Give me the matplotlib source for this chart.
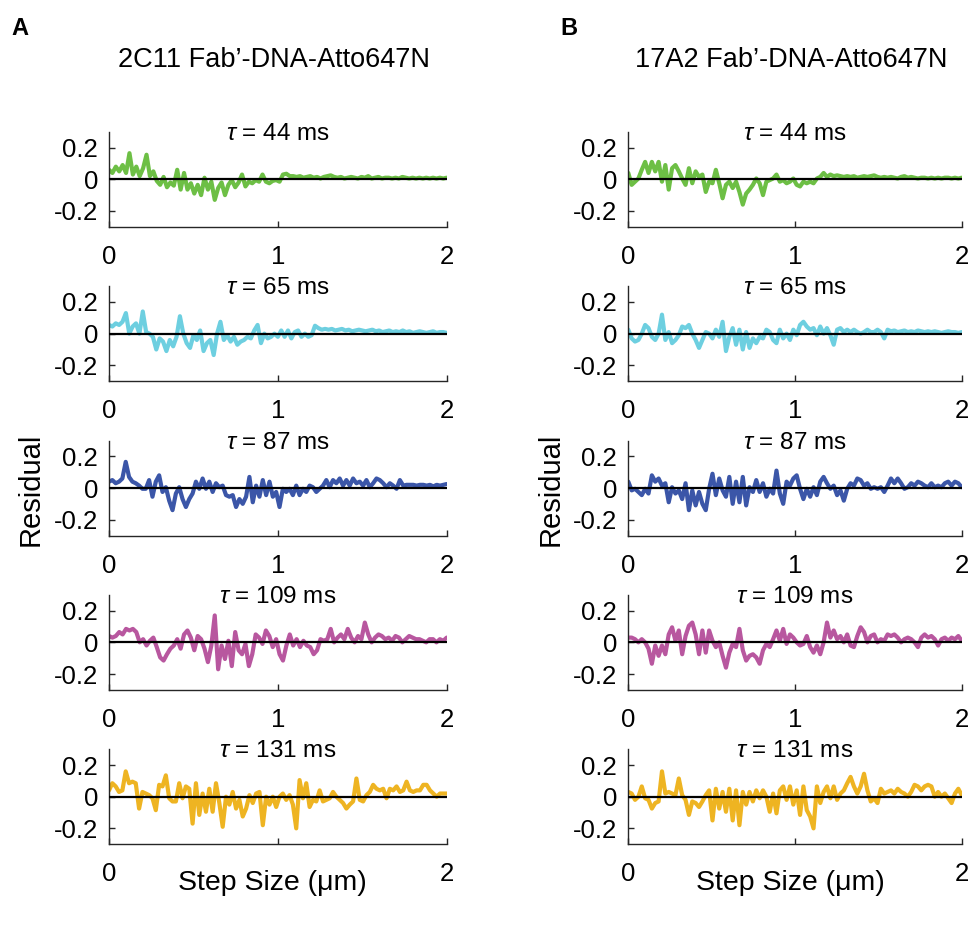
import numpy as np
import matplotlib
matplotlib.use("Agg")
import matplotlib.pyplot as plt

plt.rcParams["font.family"] = ["Liberation Sans", "DejaVu Sans"]
plt.rcParams["mathtext.fontset"] = "custom"
plt.rcParams["mathtext.it"] = "Liberation Sans:italic"
plt.rcParams["mathtext.rm"] = "Liberation Sans"
plt.rcParams["axes.unicode_minus"] = False

# ---- data -------------------------------------------------------------
taus = [44, 65, 87, 109, 131]
colors = ["#6dbf45", "#6dcfe0", "#3b56a8", "#b8579f", "#eeb422"]
panel_titles = ["2C11 Fab\u2019-DNA-Atto647N", "17A2 Fab\u2019-DNA-Atto647N"]
panel_letters = ["A", "B"]
x_ticks = [0, 1, 2]
x_tick_labels = ["0", "1", "2"]
x_tick_labels_bottom = ["0", "", "2"]
y_ticks = [-0.2, 0, 0.2]
y_tick_labels = ["-0.2", "0", "0.2"]

res_2c11_44 = [0.06, 0.04, 0.08, 0.05, 0.09, 0.04, 0.165, 0.03, 0.08, 0.02,
               0.07, 0.155, 0.02, 0.05, -0.01, -0.035, 0.015, -0.05, -0.02, -0.04,
               0.06, -0.065, 0.04, -0.065, -0.025, -0.09, -0.035, -0.10, 0.01, -0.065,
               -0.015, -0.13, -0.055, -0.02, -0.10, -0.035, -0.005, -0.05, -0.02, 0.03,
               -0.045, -0.015, -0.025, -0.005, -0.015, 0.03, -0.015, -0.025, -0.01, -0.005,
               -0.015, 0.03, 0.035, 0.02,
               0.02, 0.015, 0.02, 0.01, 0.015, 0.02, 0.01, 0.015, 0.005, 0.015,
               0.02, 0.025, 0.015, 0.01, 0.015, 0.005, 0.01, 0.015, 0.01, 0.005,
               0.015, 0.01, 0.02, 0.005, 0.01, 0.015, 0.005, 0.01, 0.01, 0.005,
               0.01, 0.005, 0.015, 0.01, 0.005, 0.01, 0.005, 0.01, 0.005, 0.01,
               0.005, 0.01, 0.005, 0.01, 0.005, 0.01]

res_2c11_65 = [0.055, 0.045, 0.065, 0.055, 0.075, 0.13, 0.0, 0.045, 0.065, 0.0,
               0.14, 0.01, 0.0, -0.02, -0.10, -0.03, -0.05, -0.11, -0.04, -0.08,
               -0.02, 0.11, 0.0, -0.06, -0.09, -0.01, -0.04, 0.02, -0.11, -0.06,
               -0.04, -0.135, 0.0, 0.075, -0.04, -0.01, -0.05, -0.02, -0.07, -0.05,
               -0.04, -0.02, -0.03, 0.02, 0.055, -0.06, 0.0, -0.03, -0.02, 0.0,
               -0.02, 0.02, -0.02, 0.02, -0.03, 0.01, 0.02, -0.02, 0.0, -0.02,
               -0.01, 0.05, 0.035, 0.025,
               0.03, 0.025, 0.03, 0.02, 0.025, 0.03, 0.02, 0.025, 0.015, 0.02,
               0.025, 0.02, 0.015, 0.02, 0.025, 0.015, 0.02, 0.01, 0.015, 0.02,
               0.01, 0.015, 0.01, 0.02, 0.01, 0.015, 0.005, 0.01, 0.015, 0.01,
               0.005, 0.01, 0.015, 0.005, 0.01, 0.01, 0.005]

res_2c11_87 = [0.04, 0.05, 0.03, 0.04, 0.06, 0.165, 0.07, 0.04, 0.03, 0.015,
               -0.005, -0.005, 0.05, -0.055, 0.04, 0.08, -0.025, 0.005, -0.08, -0.14,
               -0.035, 0.005, -0.07, -0.12, -0.07, -0.035, 0.04, -0.005, 0.06, -0.005,
               0.04, -0.025, 0.03, 0.005, 0.015, -0.045, -0.055, -0.045, -0.12, -0.07,
               -0.10, -0.055, 0.07, -0.09, 0.015, -0.055, 0.05, -0.045, 0.04, -0.055,
               -0.025, -0.12, -0.005, -0.025, -0.005, -0.045, 0.015, -0.045, -0.005, -0.025,
               0.015, 0.005, -0.025, -0.005, 0.015, 0.05, 0.005, 0.05, 0.03, 0.06,
               0.015, 0.05, 0.015, 0.06, 0.03, 0.04, 0.015, 0.05, 0.005, 0.03,
               0.06, 0.05, 0.03, 0.005, 0.03, 0.015, -0.005, 0.05, 0.015, 0.02,
               0.02, 0.02, 0.015, 0.02, 0.02, 0.015, 0.02, 0.01, 0.02, 0.015,
               0.02, 0.025]

res_2c11_109 = [0.04, 0.03, 0.04, 0.065, 0.05, 0.085, 0.075, 0.085, 0.065, 0.0,
                0.02, -0.02, 0.01, 0.03, -0.03, -0.095, -0.115, -0.075, -0.04, -0.02,
                0.02, -0.04, 0.05, 0.075, 0.03, -0.05, 0.04, 0.02, -0.04, -0.125,
                -0.02, 0.17, -0.17, -0.02, -0.105, 0.01, -0.15, 0.065, -0.05, -0.075,
                -0.01, -0.15, -0.075, 0.05, 0.03, -0.01, 0.075, 0.04, -0.03, 0.02,
                -0.075, -0.115, -0.02, 0.05, -0.02, 0.02, -0.03, 0.01, -0.02, -0.03,
                -0.075, -0.05, 0.02, 0.01, 0.02, 0.085, 0.0, 0.03, 0.05, 0.02,
                0.085, 0.03, 0.0, 0.04, 0.02, 0.125, 0.05, 0.0, 0.03, 0.05,
                0.04, 0.02, 0.03, 0.01, 0.04, 0.03, 0.0, 0.02, 0.04, 0.03,
                0.02, 0.02, 0.01, 0.0, 0.02, 0.02, 0.0, 0.02, 0.01, 0.03]

res_2c11_131 = [0.04, 0.085, 0.065, 0.03, 0.04, 0.16, 0.085, 0.095, 0.085, -0.075,
                0.03, 0.02, 0.01, -0.01, -0.085, 0.075, 0.065, 0.135, -0.01, -0.03,
                -0.03, 0.085, -0.01, 0.065, 0.05, -0.17, 0.085, -0.115, 0.02, -0.095,
                0.05, -0.095, 0.085, -0.04, -0.19, 0.0, -0.05, 0.03, -0.075, -0.02,
                -0.125, -0.075, 0.01, -0.04, 0.02, 0.03, -0.18, 0.0, -0.05, 0.0,
                -0.065, 0.0, 0.02, -0.02, 0.01, -0.05, -0.20, 0.105, -0.01, 0.085,
                -0.065, -0.02, -0.03, 0.04, -0.03, -0.02, -0.01, 0.03, 0.0, -0.02,
                -0.04, -0.075, -0.05, -0.03, 0.115, -0.02, -0.03, 0.01, 0.03, 0.075,
                0.05, 0.04, 0.05, -0.01, 0.05, 0.04, 0.065, 0.03, 0.04, 0.095,
                0.04, 0.03, 0.04, 0.04, 0.075, 0.075, 0.04, 0.02, 0.0, 0.02,
                0.02, 0.02]

res_17a2_44 = [0.04, -0.035, -0.015, 0.005, 0.06, 0.11, 0.04, 0.11, 0.05, 0.11,
               -0.015, 0.09, -0.065, 0.07, 0.09, 0.05, 0.005, -0.035, 0.07, -0.025,
               0.05, 0.015, 0.03, -0.08, -0.015, -0.025, 0.06, -0.025, -0.12, -0.035,
               -0.015, -0.055, -0.015, -0.08, -0.16, -0.09, -0.065, -0.035, 0.005, -0.025,
               -0.10, -0.015, -0.005, 0.005, 0.03, -0.015, -0.005, -0.025, -0.015, 0.005,
               -0.035, -0.045, -0.015, -0.025, -0.015, -0.025, 0.005, 0.015, 0.04, 0.015,
               0.03,
               0.02, 0.025, 0.02, 0.015, 0.02, 0.015, 0.02, 0.01, 0.015, 0.02,
               0.015, 0.02, 0.025, 0.015, 0.01, 0.015, 0.01, 0.015, 0.01, 0.005,
               0.015, 0.02, 0.01, 0.015, 0.01, 0.005, 0.01, 0.01, 0.005, 0.01,
               0.005, 0.01, 0.005, 0.01, 0.01, 0.005, 0.01, 0.005, 0.01]

res_17a2_65 = [0.025, -0.03, -0.05, -0.04, 0.0, 0.055, 0.035, -0.02, -0.04, 0.0,
               0.12, -0.04, 0.01, -0.06, -0.04, -0.01, 0.045, 0.035, 0.055, 0.0,
               -0.04, -0.09, -0.04, 0.01, 0.0, -0.03, 0.025, -0.02, 0.075, -0.11,
               -0.02, 0.035, -0.07, 0.025, -0.10, 0.01, -0.09, -0.03, -0.06, -0.02,
               -0.03, 0.025, 0.01, -0.04, -0.06, 0.025, -0.03, 0.0, -0.04, 0.025,
               -0.01, 0.055, 0.075, 0.045, 0.025, 0.035, -0.01, 0.045, 0.0, 0.035,
               -0.01, -0.07, 0.025, 0.035, 0.01, 0.025, 0.01, 0.025, 0.01, 0.0,
               0.01, 0.025, 0.01, 0.01, 0.025, 0.01, -0.03, 0.025,
               0.015, 0.02, 0.01, 0.015, 0.02, 0.01, 0.015, 0.01, 0.02, 0.015,
               0.01, 0.015, 0.01, 0.015, 0.01, 0.005, 0.01, 0.015, 0.01, 0.01,
               0.005, 0.01]

res_17a2_87 = [0.04, -0.015, -0.005, -0.025, -0.045, -0.005, -0.035, 0.08, 0.04, 0.06,
               0.015, 0.03, -0.09, 0.005, -0.035, -0.015, -0.07, 0.03, -0.14, -0.015,
               -0.11, -0.025, -0.10, -0.14, -0.005, 0.09, -0.045, 0.06, -0.015, -0.055,
               0.07, -0.10, 0.04, -0.09, 0.07, -0.11, 0.005, -0.025, 0.05, -0.025,
               0.03, -0.055, -0.005, -0.035, 0.11, -0.035, -0.10, 0.04, 0.015, 0.06,
               0.08, -0.005, -0.07, -0.005, -0.055, 0.005, -0.045, 0.04, 0.07, 0.03,
               -0.005, 0.015, -0.045, -0.015, -0.08, -0.005, 0.03, 0.015, 0.06, 0.05,
               0.015, 0.03, -0.005, 0.005, -0.005, 0.005, -0.025, 0.015, 0.06, 0.03,
               0.06, 0.03, -0.005, 0.005, 0.03, 0.015, 0.04, 0.03, 0.015, 0.005,
               0.03, 0.005, 0.015, 0.005, 0.03, 0.04, 0.015, 0.04, 0.03, 0.005]

res_17a2_109 = [0.03, 0.03, 0.02, 0.0, 0.02, 0.0, -0.04, -0.135, -0.02, -0.085,
                -0.02, -0.075, 0.05, 0.095, 0.01, 0.075, -0.075, 0.04, 0.105, 0.125,
                0.05, -0.075, 0.075, -0.065, 0.075, 0.01, -0.03, 0.0, -0.085, -0.16,
                -0.065, -0.01, -0.03, 0.085, -0.05, -0.115, -0.085, -0.075, -0.095, -0.135,
                -0.05, -0.01, -0.03, 0.02, 0.075, 0.01, 0.085, -0.01, 0.05, 0.03,
                0.0, -0.02, -0.01, 0.04, -0.03, -0.065, -0.02, -0.075, 0.0, 0.125,
                0.03, 0.075, 0.02, 0.04, 0.0, 0.05, -0.02, -0.03, 0.04, 0.095,
                0.065, 0.0, 0.04, 0.05, 0.0, 0.02, 0.01, 0.05, 0.04, 0.05,
                0.03, 0.0, 0.02, 0.03, 0.02, 0.0, -0.03, 0.03, 0.05, 0.03,
                0.04, 0.02, -0.02, 0.02, 0.03, 0.01, 0.03, 0.02, 0.04, 0.01]

res_17a2_131 = [0.03, 0.02, -0.02, 0.0, 0.065, -0.01, -0.02, -0.075, -0.04, -0.03,
                0.16, 0.02, 0.03, 0.02, 0.01, 0.115, 0.01, -0.02, -0.115, -0.03,
                -0.04, -0.065, -0.03, 0.01, 0.04, -0.15, 0.05, -0.075, 0.03, -0.095,
                0.05, -0.15, 0.04, -0.18, 0.03, -0.05, 0.03, -0.03, 0.04, -0.01,
                0.04, 0.0, -0.095, 0.02, -0.105, 0.04, 0.065, -0.02, 0.065, -0.05,
                0.04, -0.115, 0.065, -0.085, -0.125, -0.20, 0.065, -0.04, 0.03, 0.065,
                -0.01, 0.065, -0.02, 0.02, 0.04, 0.085, 0.125, 0.065, 0.02, 0.065,
                0.145, 0.04, -0.03, -0.01, -0.04, 0.05, 0.02, 0.03, 0.04, 0.02,
                0.05, 0.03, 0.02, 0.0, 0.03, 0.075, 0.065, 0.04, 0.065, 0.075,
                0.065, 0.0, 0.03, 0.0, 0.02, -0.01, -0.04, 0.02, 0.05, 0.01]

residuals = [
    [res_2c11_44, res_2c11_65, res_2c11_87, res_2c11_109, res_2c11_131],
    [res_17a2_44, res_17a2_65, res_17a2_87, res_17a2_109, res_17a2_131],
]
x_max = 2.0

# ---- layout (pixel geometry) -----------------------------------------
W, H = 971, 926
fig = plt.figure(figsize=(W / 100, H / 100), dpi=100)

col_x = [(109.0, 446.7), (628.3, 961.7)]
zero_row0 = 179.3
row_pitch = 154.35
half_h = 47.5


def rect(x0, x1, ytop, ybot):
    return [x0 / W, 1 - ybot / H, (x1 - x0) / W, (ybot - ytop) / H]


tick_fs = 18.5
title_fs = 17.5
header_fs = 19.5
label_fs = 20.5

for c in range(2):
    x0, x1 = col_x[c]
    for r in range(5):
        yz = zero_row0 + r * row_pitch
        ax = fig.add_axes(rect(x0, x1, yz - half_h, yz + half_h))
        vals = np.asarray(residuals[c][r])
        xs = np.linspace(0.0, x_max, len(vals))
        ax.plot(xs, vals, color=colors[r], lw=3.0, solid_joinstyle="round",
                solid_capstyle="round", zorder=2)
        ax.axhline(0, color="black", lw=1.6, zorder=3)
        ax.set_xlim(0, x_max)
        ax.set_ylim(-0.3, 0.3)
        ax.set_xticks(x_ticks)
        ax.set_xticklabels(x_tick_labels_bottom if r == 4 else x_tick_labels)
        ax.set_yticks(y_ticks)
        ax.set_yticklabels(y_tick_labels)
        for s in ["top", "right"]:
            ax.spines[s].set_visible(False)
        for s in ["left", "bottom"]:
            ax.spines[s].set_linewidth(1.0)
            ax.spines[s].set_color("#262626")
        ax.tick_params(direction="in", length=4, width=1.0, colors="#262626",
                       labelcolor="black", labelsize=tick_fs)
        ax.tick_params(axis="x", pad=13)
        ax.tick_params(axis="y", pad=8)
        ax.patch.set_alpha(0)
        ax.text(0.5, 0.915, r"$\tau$ = %d ms" % taus[r], transform=ax.transAxes,
                ha="center", va="baseline", fontsize=title_fs, zorder=5)

    xc = (x0 + x1) / 2
    fig.text((xc - 4) / W, 1 - 67 / H, panel_titles[c], ha="center", va="baseline",
             fontsize=header_fs)
    fig.text((11 + c * 549) / W, 1 - 35 / H, panel_letters[c], ha="left",
             va="baseline", fontsize=17, fontweight="bold")
    fig.text((x0 - 78) / W, 1 - 489 / H, "Residual", rotation=90, ha="center",
             va="center", fontsize=21)
    fig.text((xc - 5) / W, 1 - 890 / H, "Step Size (\u03bcm)", ha="center",
             va="baseline", fontsize=label_fs)

fig.savefig("out.png", dpi=100)
